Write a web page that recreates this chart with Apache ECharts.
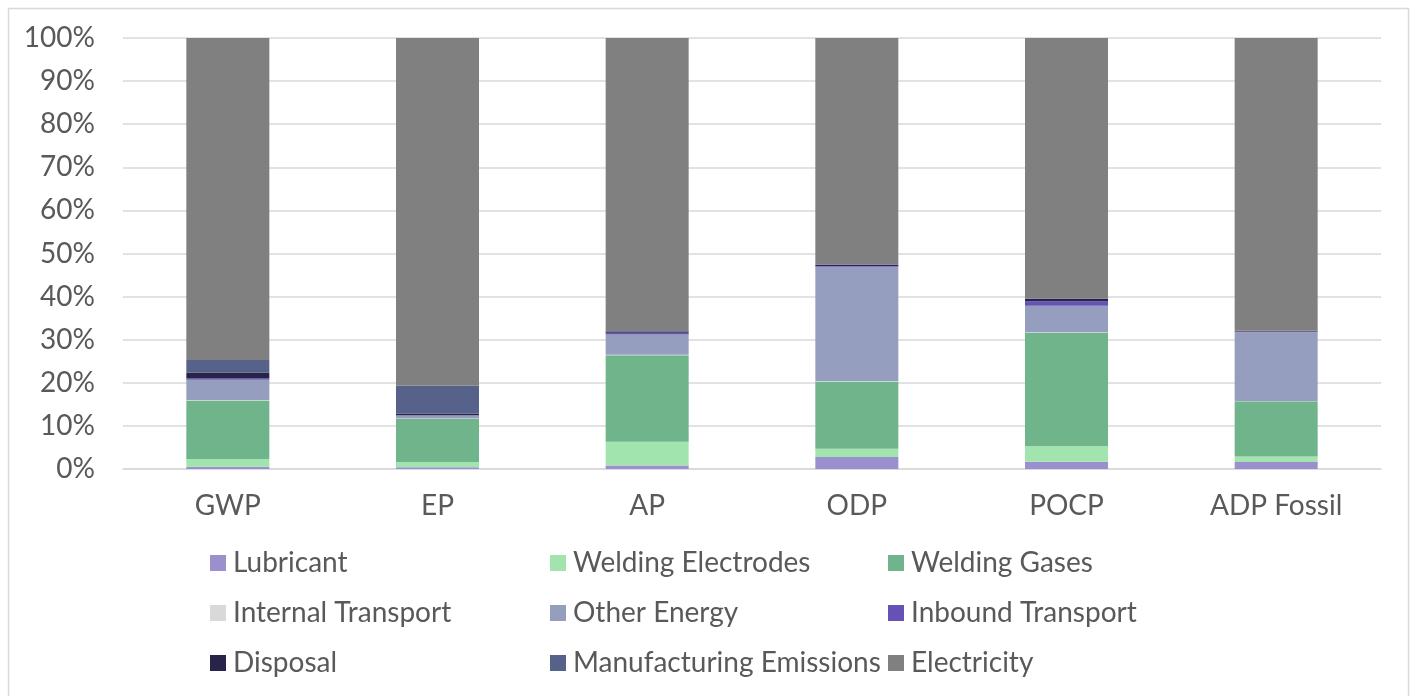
<!DOCTYPE html>
<html>
<head>
<meta charset="utf-8">
<script src="https://cdn.jsdelivr.net/npm/echarts@6/dist/echarts.min.js"></script>
<style>
  html, body { margin: 0; padding: 0; background: #ffffff; }
  #chart { width: 1416px; height: 696px; }
</style>
</head>
<body>
<div id="chart"></div>
<script>
// Impact categories along the x axis
const categories = ['GWP', 'EP', 'AP', 'ODP', 'POCP', 'ADP Fossil'];

// Share of each contributor per impact category (%)
const lubricant          = [0.5, 0.4, 0.8, 2.8, 1.7, 1.6];
const weldingElectrodes  = [1.8, 1.2, 5.5, 1.9, 3.6, 1.3];
const weldingGases       = [13.6, 10.0, 20.1, 15.6, 26.3, 12.8];
const internalTransport  = [0.1, 0.1, 0.1, 0.1, 0.1, 0.1];
const otherEnergy        = [4.7, 0.7, 4.7, 26.5, 6.2, 15.9];
const inboundTransport   = [0.3, 0.1, 0.4, 0.2, 1.0, 0.2];
const disposal           = [1.4, 0.4, 0.3, 0.3, 0.6, 0.1];
const manufacturingEmis  = [2.9, 6.5, 0.1, 0.1, 0.1, 0.1];
const electricity        = [74.7, 80.6, 68.0, 52.5, 60.4, 67.9];

const yTicks = [0, 10, 20, 30, 40, 50, 60, 70, 80, 90, 100];

const seriesDefs = [
  { name: 'Lubricant', data: lubricant, color: '#9b8fce' },
  { name: 'Welding Electrodes', data: weldingElectrodes, color: '#a2e4ae' },
  { name: 'Welding Gases', data: weldingGases, color: '#70b48b' },
  { name: 'Internal Transport', data: internalTransport, color: '#d9d9d9' },
  { name: 'Other Energy', data: otherEnergy, color: '#959ebe' },
  { name: 'Inbound Transport', data: inboundTransport, color: '#6652b4' },
  { name: 'Disposal', data: disposal, color: '#262448' },
  { name: 'Manufacturing Emissions', data: manufacturingEmis, color: '#57628b' },
  { name: 'Electricity', data: electricity, color: '#808080' }
];

const FONT = 'Lato, "Noto Sans", sans-serif';
const TEXT = '#595959';

function legendColumn(names, left) {
  return {
    orient: 'vertical',
    left: left,
    top: 546,
    padding: 0,
    itemWidth: 16,
    itemHeight: 16,
    itemGap: 16,
    icon: 'rect',
    data: names,
    selectedMode: false,
    textStyle: { fontFamily: FONT, fontSize: 28, color: TEXT, padding: [0, 0, 0, 2], lineHeight: 34 }
  };
}

const chart = echarts.init(document.getElementById('chart'), null, { renderer: 'canvas' });
chart.setOption({
  animation: false,
  backgroundColor: '#ffffff',
  graphic: [{
    type: 'rect',
    shape: { x: 8.5, y: 8.5, width: 1400, height: 700 },
    style: { fill: 'none', stroke: '#d9d9d9', lineWidth: 1.5 },
    silent: true
  }],
  grid: { left: 123, right: 35, top: 38, bottom: 227, containLabel: false },
  legend: [
    legendColumn(['Lubricant', 'Internal Transport', 'Disposal'], 210),
    legendColumn(['Welding Electrodes', 'Other Energy', 'Manufacturing Emissions'], 550),
    legendColumn(['Welding Gases', 'Inbound Transport', 'Electricity'], 888)
  ],
  xAxis: {
    type: 'category',
    data: categories,
    axisTick: { show: false },
    axisLine: { lineStyle: { color: '#d9d9d9', width: 1.5 } },
    axisLabel: { fontFamily: FONT, fontSize: 28, color: TEXT, margin: 23 }
  },
  yAxis: {
    type: 'value',
    min: yTicks[0],
    max: yTicks[yTicks.length - 1],
    interval: 10,
    axisLine: { show: false },
    axisTick: { show: false },
    splitLine: { lineStyle: { color: '#d9d9d9', width: 1.5 } },
    axisLabel: { fontFamily: FONT, fontSize: 28, color: TEXT, margin: 28, formatter: v => v + '%' }
  },
  series: seriesDefs.map(s => ({
    name: s.name,
    type: 'bar',
    stack: 'total',
    barWidth: 83,
    data: s.data,
    itemStyle: { color: s.color },
    emphasis: { disabled: true }
  }))
});
</script>
</body>
</html>
